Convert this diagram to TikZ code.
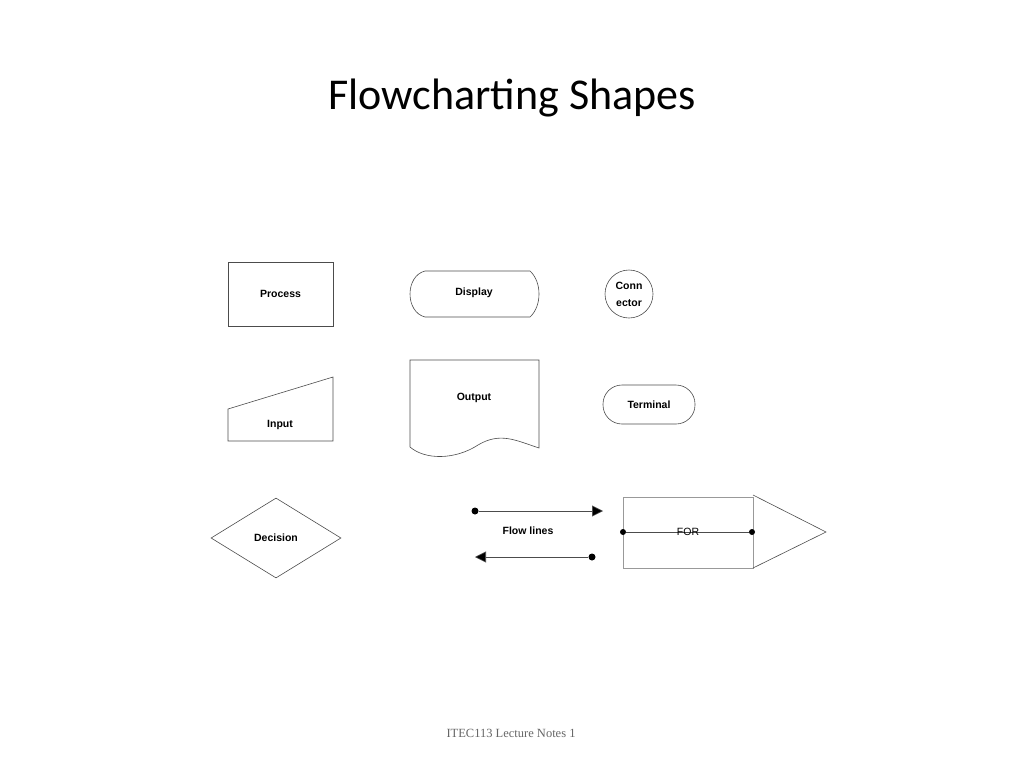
\documentclass[tikz,border=0pt]{standalone}
\usepackage{fontspec}
\setmainfont{Liberation Sans}
\newfontfamily\titlefont{Carlito}
\newfontfamily\footfont{Liberation Serif}
\usetikzlibrary{shapes.geometric,arrows.meta}
\begin{document}
\begin{tikzpicture}[x=1pt,y=-1pt,
  shp/.style={draw=black!70,line width=0.6pt},
  lbl/.style={font=\bfseries\fontsize{10.5}{12}\selectfont,align=center},
  dotc/.style={circle,fill=black,inner sep=0pt,minimum size=7pt}]
\useasboundingbox (0,0) rectangle (1024,768);
\node (title) at (512,98) {\titlefont\fontsize{44}{50}\selectfont Flowcharting Shapes};
\node (foot) at (511,733) {\footfont\fontsize{12.5}{14}\selectfont\color{black!60}ITEC113 Lecture Notes 1};
% Process
\node[shp,minimum width=105pt,minimum height=64pt,lbl] (proc) at (280.5,294) {Process};
% Display
\draw[shp] (425,271) -- (530,271) .. controls (542,282) and (542,306) .. (530,317) -- (425,317) .. controls (405,312) and (405,276) .. (425,271);
\node[lbl] (disp) at (474,293) {Display};
% Connector
\node[shp,circle,minimum size=48pt,inner sep=0pt,lbl,font=\bfseries\fontsize{10.5}{17}\selectfont] (conn) at (629,294) {Conn\\ector};
% Input
\draw[shp] (228,441) -- (228,409) -- (333,377) -- (333,441) -- cycle;
\node[lbl] (inp) at (280,425) {Input};
% Output
\draw[shp] (410,447) -- (410,360) -- (539,360) -- (539,448) .. controls (515,440) and (500,432) .. (478,445) .. controls (455,460) and (425,460) .. (410,447);
\node[lbl] (outp) at (474,398) {Output};
% Terminal
\node[shp,rounded corners=19pt,minimum width=92pt,minimum height=39pt,lbl] (term) at (649,404.5) {Terminal};
% Decision
\node[shp,diamond,minimum width=130pt,minimum height=80pt,inner sep=0pt,lbl] (dec) at (276,538) {Decision};
% Flow lines
\node[dotc] (a1) at (475,511) {};
\coordinate (a2) at (603,511);
\draw[black!70,line width=0.6pt,-{Triangle[length=11pt,width=11pt,fill=black]}] (a1) -- (a2);
\node[dotc] (b1) at (592,557) {};
\coordinate (b2) at (475,557);
\draw[black!70,line width=0.6pt,-{Triangle[length=11pt,width=11pt,fill=black]}] (b1) -- (b2);
\node[lbl] (fl) at (528,531) {Flow lines};
% FOR
\draw[draw=black!40,line width=1pt] (623,497) rectangle (753,568);
\draw[shp] (753,495) -- (826,532) -- (753,568);
\node[dotc,minimum size=6pt] (f1) at (623,532) {};
\node[dotc,minimum size=6pt] (f2) at (752,532) {};
\draw[black!70,line width=0.6pt] (f1) -- (f2);
\node[font=\fontsize{10.5}{12}\selectfont] (forl) at (688,532) {FOR};
\end{tikzpicture}
\end{document}
